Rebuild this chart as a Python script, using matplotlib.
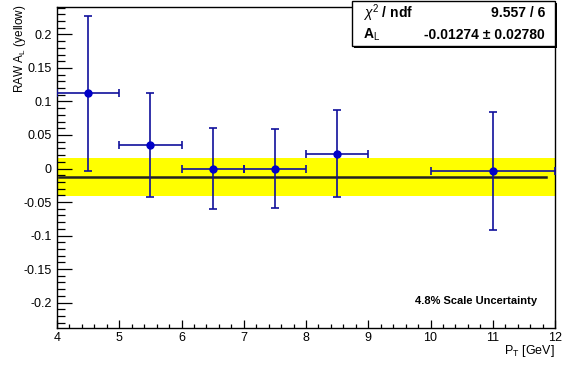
import matplotlib
matplotlib.use("Agg")
import matplotlib.pyplot as plt
from matplotlib.ticker import MultipleLocator, FuncFormatter
from matplotlib.patches import Rectangle
import numpy as np

plt.rcParams['font.family'] = ['Liberation Sans', 'DejaVu Sans']
plt.rcParams['mathtext.fontset'] = 'custom'
plt.rcParams['mathtext.rm'] = 'Liberation Sans'
plt.rcParams['mathtext.it'] = 'Liberation Sans:italic'
plt.rcParams['mathtext.bf'] = 'Liberation Sans:bold'

# Data
pt = [4.5, 5.5, 6.5, 7.5, 8.5, 11.0]
pt_err = [0.5, 0.5, 0.5, 0.5, 0.5, 1.0]
al = [0.112, 0.035, 0.0, 0.0, 0.022, -0.004]
al_err = [0.116, 0.078, 0.061, 0.059, 0.065, 0.088]
fit_value = -0.01274
fit_error = 0.02780
chi2_text = "9.557 / 6"
fit_text = "-0.01274 \u00b1 0.02780"

W, H = 567, 366
fig = plt.figure(figsize=(W/100, H/100), dpi=100)
L, R, T, B = 57, 555, 7, 328
ax = fig.add_axes([L/W, 1 - B/H, (R-L)/W, (B-T)/H])
ax.set_xlim(4, 12)
ax.set_ylim(-0.238, 0.241)

# yellow band
ax.fill_between([4, 12], fit_value - fit_error, fit_value + fit_error,
                color='#ffff00', lw=0, zorder=1)
# fit line
ax.plot([4.04, 11.85], [fit_value, fit_value], color='#222222', lw=1.8, zorder=2)

ax.errorbar(pt, al, xerr=pt_err, yerr=al_err, fmt='o', color='#0000c8',
            ecolor='#10109c', elinewidth=1.2, capsize=3, capthick=1.2,
            markersize=5, zorder=3)

for s in ax.spines.values():
    s.set_linewidth(1.0)
    s.set_color('black')

ax.yaxis.set_major_locator(MultipleLocator(0.05))
ax.yaxis.set_minor_locator(MultipleLocator(0.01))
ax.xaxis.set_major_locator(MultipleLocator(1))
ax.xaxis.set_minor_locator(MultipleLocator(0.2))

def yfmt(v, pos):
    s = f"{v:.2f}".rstrip('0').rstrip('.')
    if s in ('-0', '0'):
        return '0'
    return s
ax.yaxis.set_major_formatter(FuncFormatter(yfmt))
ax.xaxis.set_major_formatter(FuncFormatter(lambda v, p: f"{int(round(v))}"))

ax.tick_params(axis='y', which='major', direction='in', length=11, width=0.9,
               labelsize=9, pad=4, left=True, right=False)
ax.tick_params(axis='y', which='minor', direction='in', length=5.5, width=0.9,
               left=True, right=False)
ax.tick_params(axis='x', which='major', direction='in', length=6, width=0.9,
               labelsize=9, pad=3, bottom=True, top=False)
ax.tick_params(axis='x', which='minor', direction='in', length=3, width=0.9,
               bottom=True, top=False)

fig.text(20/W, 1 - 4/H, r'RAW A$_\mathrm{L}$ (yellow)', rotation=90,
         ha='center', va='top', fontsize=8.5)
fig.text(555/W, 1 - 351/H, r'P$_\mathrm{T}$ [GeV]', ha='right', va='center',
         fontsize=9)

fig.text(476/W, 1 - 301/H, '4.8% Scale Uncertainty', fontsize=8,
         fontweight='bold', ha='center', va='center')

# Stats box (figure pixel coords)
bx0, bx1, by0, by1 = 352, 555, 1, 46
shadow = Rectangle(((bx0+2)/W, 1 - (by1+2)/H), (bx1-bx0)/W, (by1-by0)/H,
                   transform=fig.transFigure, facecolor='black', edgecolor='none',
                   zorder=9)
box = Rectangle((bx0/W, 1 - by1/H), (bx1-bx0)/W, (by1-by0)/H,
                transform=fig.transFigure, facecolor='white', edgecolor='black',
                lw=1.0, zorder=10)
fig.add_artist(shadow)
fig.add_artist(box)
fig.text(363/W, 1 - 13/H, r'$\chi^{2}$ / ndf', fontsize=10, fontweight='bold',
         ha='left', va='center', zorder=11)
fig.text(545/W, 1 - 13/H, chi2_text, fontsize=10, fontweight='bold',
         ha='right', va='center', zorder=11)
fig.text(363/W, 1 - 35/H, r'A$_\mathrm{L}$', fontsize=10, fontweight='bold',
         ha='left', va='center', zorder=11)
fig.text(545/W, 1 - 35/H, fit_text, fontsize=10, fontweight='bold',
         ha='right', va='center', zorder=11)

fig.savefig('out.png', dpi=100)
